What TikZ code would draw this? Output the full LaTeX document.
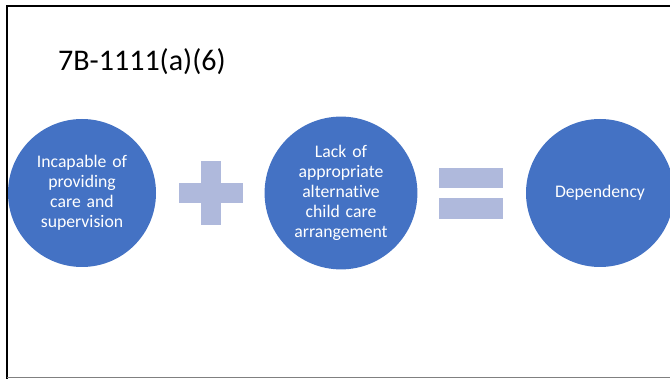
\documentclass[tikz,border=0pt]{standalone}
\usepackage{fontspec}
\setmainfont{Carlito}[Ligatures={NoCommon,NoRare}]
\definecolor{disc}{HTML}{4472C4}
\definecolor{sign}{HTML}{AFB9DC}
\begin{document}
\begin{tikzpicture}[x=1pt,y=-1pt,
  bubble/.style={circle,fill=disc,minimum size=148pt,inner sep=0pt,text=white,
    font=\fontsize{17.7}{20}\selectfont,align=center,text width=120pt},
  bar/.style={fill=sign,draw=none}]
\path[use as bounding box] (0,0) rectangle (670,379);
\clip (0,0) rectangle (670,379);
\fill[white] (0,0) rectangle (670,379);
% slide frame
\draw[line width=2pt,black] (7,379) -- (7,6) -- (670,6);
\draw[line width=1.3pt,gray] (7,377.8) -- (670,377.8);
% title
\node[anchor=base west,inner sep=0pt,font=\fontsize{30}{36}\selectfont] (title) at (58,71) {7B-1111(a)(6)};
% three terms
\node[bubble] (a) at (82,193) {Incapable of\\providing\\care and\\supervision};
\node[bubble] (b) at (341,193) {Lack of\\appropriate\\alternative\\child care\\arrangement};
\node[bubble] (c) at (600,193) {Dependency};
% plus sign
\fill[bar] (179,183) rectangle (243,203);
\fill[bar] (201,161) rectangle (221,225);
% equals sign
\fill[bar] (439,168) rectangle (503,188);
\fill[bar] (439,198) rectangle (503,219);
\end{tikzpicture}
\end{document}
